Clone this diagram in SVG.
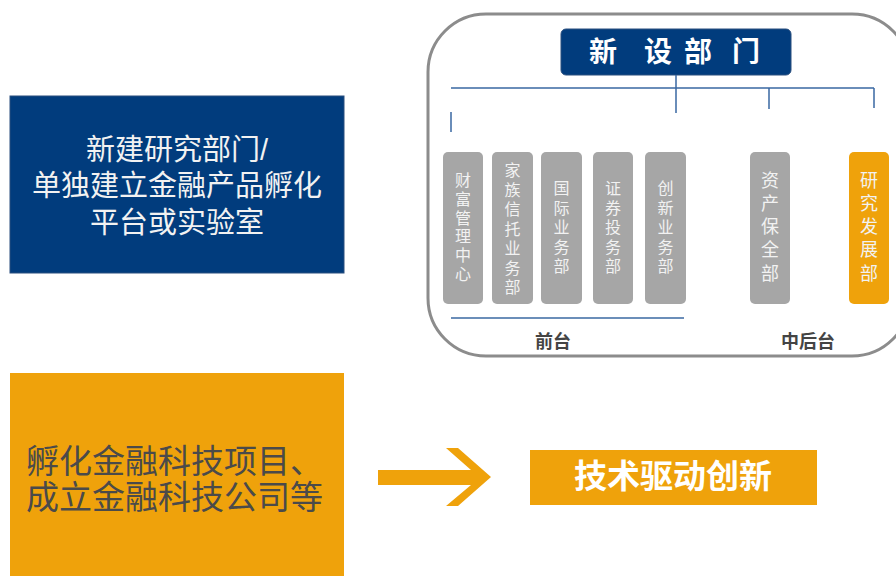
<svg xmlns="http://www.w3.org/2000/svg" width="896" height="576" viewBox="0 0 896 576">
<style>
text{font-family:"Noto Sans CJK SC","Noto Sans",sans-serif}
.gbox{fill:#A6A6A6}
.obox{fill:#EFA20B}
.vt{fill:#F2F2F2;font-size:16px;writing-mode:vertical-rl;text-orientation:upright;letter-spacing:3.5px}
.vt2{fill:#F2F2F2;font-size:18px;writing-mode:vertical-rl;text-orientation:upright;letter-spacing:5.2px}
.conn{stroke:#3A68A2;stroke-width:1.5;fill:none}
.lbl{fill:#444;font-size:18px;font-weight:bold;text-anchor:middle}
.big{font-family:"Liberation Sans","Noto Sans CJK SC",sans-serif}
</style>
<rect width="896" height="576" fill="#FFFFFF"/>
<g id="left-blue">
<rect x="10" y="96" width="334" height="177" fill="#013C7D" stroke="#2A4F7F" stroke-width="1"/>
<text class="big" x="177" y="160" fill="#F2F2F2" font-size="29" text-anchor="middle">新建研究部门/</text>
<text class="big" x="177" y="196" fill="#F2F2F2" font-size="29" text-anchor="middle">单独建立金融产品孵化</text>
<text class="big" x="177" y="233" fill="#F2F2F2" font-size="29" text-anchor="middle">平台或实验室</text>
</g>
<g id="left-orange">
<rect x="10" y="373" width="334" height="205" fill="#EFA20B"/>
<text class="big" x="26" y="473" fill="#4A4A4A" font-size="33">孵化金融科技项目、</text>
<text class="big" x="26" y="509" fill="#4A4A4A" font-size="33">成立金融科技公司等</text>
</g>
<g id="container">
<rect x="428" y="14" width="482" height="342" rx="58" fill="none" stroke="#8C8C8C" stroke-width="3"/>
</g>
<g id="header">
<rect x="561" y="29" width="230" height="46" rx="5" fill="#013C7D" stroke="#2A4F7F" stroke-width="1"/>
<g fill="#FFFFFF" font-size="28" font-weight="bold" text-anchor="middle">
<text x="603" y="62">新</text><text x="658" y="62">设</text><text x="698" y="62">部</text><text x="746" y="62">门</text>
</g>
</g>
<g id="connectors">
<path class="conn" d="M451 88H874M676 75V113M769 88V109M874 88V108M451 112V132"/>
<path class="conn" d="M451 318H684"/>
</g>
<g id="d1"><rect class="gbox" x="443" y="152" width="40" height="152" rx="5"/>
<text class="vt" x="463" y="172" style="letter-spacing:2.8px">财富管理中心</text></g>
<g id="d2"><rect class="gbox" x="492" y="152" width="41" height="152" rx="5"/>
<text class="vt" x="512.5" y="162">家族信托业务部</text></g>
<g id="d3"><rect class="gbox" x="541" y="152" width="41" height="152" rx="5"/>
<text class="vt" x="561.5" y="180">国际业务部</text></g>
<g id="d4"><rect class="gbox" x="593" y="152" width="40" height="152" rx="5"/>
<text class="vt" x="613" y="180">证券投务部</text></g>
<g id="d5"><rect class="gbox" x="645" y="152" width="41" height="152" rx="5"/>
<text class="vt" x="665.5" y="180">创新业务部</text></g>
<g id="d6"><rect class="gbox" x="750" y="152" width="40" height="152" rx="5"/>
<text class="vt2" x="770" y="171">资产保全部</text></g>
<g id="d7"><rect class="obox" x="849" y="152" width="40" height="152" rx="5"/>
<text class="vt2" x="869" y="171">研究发展部</text></g>
<g id="labels">
<text class="lbl" x="553" y="348">前台</text>
<text class="lbl" x="808" y="348">中后台</text>
</g>
<g id="arrow">
<polygon points="378,470 471,470 446,448 458,448 491,477 458,506 446,506 471,485 378,485" fill="#EFA20B"/>
</g>
<g id="tech">
<rect x="530" y="450" width="287" height="55" fill="#EFA20B"/>
<text x="673" y="488" fill="#FFFFFF" font-size="33" font-weight="bold" text-anchor="middle">技术驱动创新</text>
</g>
</svg>
